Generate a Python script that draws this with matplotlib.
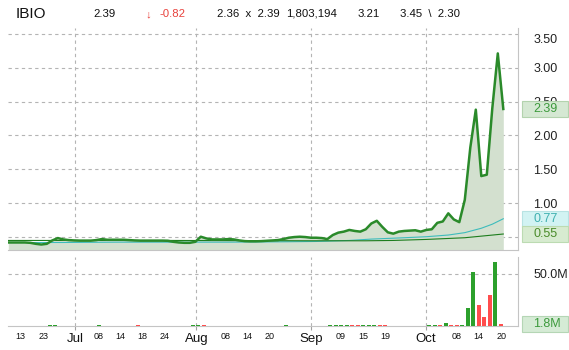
import numpy as np
import matplotlib
matplotlib.use("Agg")
import matplotlib.pyplot as plt
from matplotlib.patches import Rectangle

plt.rcParams['font.family'] = ['Liberation Sans', 'DejaVu Sans']

# daily closes, Jun 13 -> Oct 21 (trading days)
close = [0.42, 0.42, 0.42, 0.42, 0.415, 0.40, 0.39, 0.40, 0.45, 0.485,
         0.465, 0.455, 0.45, 0.447, 0.447, 0.447, 0.455, 0.47, 0.46, 0.46,
         0.46, 0.46, 0.455, 0.45, 0.447, 0.447, 0.447, 0.447, 0.447, 0.445,
         0.43, 0.42, 0.415, 0.415, 0.43, 0.505, 0.48, 0.465, 0.465, 0.465,
         0.47, 0.465, 0.45, 0.44, 0.437, 0.437, 0.44, 0.445, 0.45, 0.455,
         0.47, 0.49, 0.50, 0.505, 0.50, 0.49, 0.49, 0.485, 0.47, 0.53,
         0.565, 0.58, 0.605, 0.59, 0.58, 0.615, 0.70, 0.74, 0.65, 0.57,
         0.55, 0.58, 0.59, 0.595, 0.60, 0.58, 0.605, 0.615, 0.71, 0.73,
         0.85, 0.76, 0.72, 1.05, 1.82, 2.38, 1.40, 1.42, 2.40, 3.21,
         2.39]
# volume in millions
volume = [0.3, 0.2, 0.3, 0.2, 0.2, 0.3, 0.4, 0.3, 0.6, 0.8,
          0.4, 0.3, 0.3, 0.2, 0.2, 0.2, 0.3, 0.5, 0.3, 0.2,
          0.2, 0.3, 0.2, 0.3, 0.6, 0.2, 0.2, 0.2, 0.3, 0.2,
          0.3, 0.3, 0.2, 0.3, 0.5, 1.0, 0.6, 0.3, 0.2, 0.2,
          0.3, 0.2, 0.2, 0.2, 0.2, 0.2, 0.2, 0.2, 0.3, 0.3,
          0.4, 0.5, 0.4, 0.4, 0.3, 0.3, 0.3, 0.3, 0.3, 0.8,
          0.9, 0.6, 0.8, 0.5, 0.7, 0.8, 1.2, 1.0, 0.8, 0.6,
          0.4, 0.4, 0.4, 0.3, 0.3, 0.3, 0.4, 0.6, 0.9, 0.8,
          3.0, 1.0, 1.0, 1.2, 17.0, 51.6, 20.2, 8.9, 29.8, 61.3,
          1.8]
red_days = [6, 24, 36, 43, 58, 63, 64, 68, 69, 79, 81, 82, 86, 87, 88, 90]

ma50_idx = [0, 10, 20, 30, 40, 50, 56, 62, 66, 72, 76, 80, 83, 86, 88, 90]
ma50 = [0.42, 0.42, 0.425, 0.425, 0.425, 0.43, 0.435, 0.45, 0.47, 0.49,
        0.505, 0.53, 0.565, 0.63, 0.69, 0.77]
ma200_idx = [0, 30, 55, 65, 70, 76, 83, 90]
ma200 = [0.45, 0.45, 0.445, 0.445, 0.45, 0.465, 0.49, 0.545]

month_pos = [12.1, 34.2, 55.1, 75.9]
month_lbl = ["Jul", "Aug", "Sep", "Oct"]
day_pos = [2.2, 6.4, 16.4, 20.4, 24.4, 28.4, 39.6, 43.5, 47.5, 60.4, 64.5, 68.5, 81.5, 85.5, 89.6]
day_lbl = ["13", "23", "08", "14", "18", "24", "08", "14", "20", "09", "15", "19", "08", "14", "20"]
price_ticks = [0.5, 1.0, 1.5, 2.0, 2.5, 3.0, 3.5]

W, H = 569, 350
fig = plt.figure(figsize=(W / 100, H / 100), dpi=100)


def fx(px):
    return px / W


def fy(py):
    return 1 - py / H


ax = fig.add_axes([fx(8.3), fy(250), fx(518 - 8.3), (250 - 28) / H])
axv = fig.add_axes([fx(8.3), fy(326), fx(518 - 8.3), (326 - 257) / H])

x = np.arange(len(close))
grid_kw = dict(color="#b4b4b4", lw=0.8, ls=(0, (3, 3)))

# price panel
ax.fill_between(x, close, 0, color="#d3e0cf", lw=0, zorder=1)
ax.plot(ma50_idx, ma50, color="#3dbcbc", lw=0.8, zorder=3)
ax.plot(ma200_idx, ma200, color="#1d7d1d", lw=0.8, zorder=3)
ax.plot(x, close, color="#2a8a2a", lw=1.8, zorder=4, solid_joinstyle="round")
ax.set_xlim(0, (518 - 8.3) / 5.5)
ax.set_ylim(0.309, 3.585)
ax.set_yticks(price_ticks)
ax.set_yticklabels([f"{t:.2f}" for t in price_ticks])
ax.yaxis.tick_right()
ax.tick_params(axis="y", length=0, pad=11, labelsize=9, labelcolor="#222222")
ax.set_xticks(month_pos)
ax.tick_params(axis="x", length=0, labelbottom=False)
ax.grid(True, **grid_kw)
ax.set_axisbelow(True)
for s in ["top", "left"]:
    ax.spines[s].set_visible(False)
for s in ["right", "bottom"]:
    ax.spines[s].set_color("#c4c4c4")
ax.get_yticklabels()[-1].set_va("top")

# volume panel
colors = ["#ff4d4d" if i in red_days else "#2ca02c" for i in x]
axv.bar(x - 0.45, volume, width=0.7, color=colors, zorder=3)
axv.set_xlim(ax.get_xlim())
axv.set_ylim(0, 66.3)
axv.set_yticks([50])
axv.set_yticklabels(["50.0M"])
axv.yaxis.tick_right()
axv.tick_params(axis="y", length=0, pad=11, labelsize=9, labelcolor="#222222")
axv.set_xticks(month_pos)
axv.set_xticklabels(month_lbl)
axv.set_xticks(day_pos, minor=True)
axv.set_xticklabels(day_lbl, minor=True)
axv.tick_params(axis="x", which="major", length=3, color="#a0a0a0", pad=2, labelsize=9.5, labelcolor="#111111")
axv.tick_params(axis="x", which="minor", length=0, pad=4.5, labelsize=6.5, labelcolor="#111111")
axv.grid(True, which="major", **grid_kw)
axv.set_axisbelow(True)
for s in ["top", "left"]:
    axv.spines[s].set_visible(False)
for s in ["right", "bottom"]:
    axv.spines[s].set_color("#c4c4c4")


# value boxes on the right axis
def value_box(axis, val, text, face, edge, tcol):
    ypx = axis.transData.transform((0, val))[1]
    yc = ypx / fig.bbox.height
    fig.patches.append(Rectangle((fx(521.5), yc - 8 / H), fx(46), 16 / H, transform=fig.transFigure,
                                 facecolor=face, edgecolor=edge, lw=0.8, zorder=5))
    fig.text(fx(533), yc, text, ha="left", va="center", fontsize=9, color=tcol, zorder=6)


value_box(ax, close[-1], f"{close[-1]:.2f}", "#d5e8d3", "#b3d3ae", "#3c9a3c")
value_box(ax, ma50[-1], f"{ma50[-1]:.2f}", "#d2f3f3", "#b8e3e3", "#3fb0b0")
value_box(ax, ma200[-1], f"{ma200[-1]:.2f}", "#d7ebd0", "#bcdbb2", "#4a8c2a")
value_box(axv, volume[-1], f"{volume[-1]:.1f}M", "#d5ebd5", "#b5d6b5", "#3c9a3c")

# header
fig.text(fx(16), fy(14), "IBIO", fontsize=11, color="#111111", va="center")
fig.text(fx(93), fy(14), "2.39", fontsize=8.2, color="#111111", va="center")
fig.text(fx(145), fy(14), "\u2193", fontsize=8.2, color="#e8413c", va="center")
fig.text(fx(160), fy(14), "-0.82", fontsize=8.2, color="#e8413c", va="center")
fig.text(fx(217), fy(14), "2.36  x  2.39", fontsize=8.2, color="#111111", va="center")
fig.text(fx(286), fy(14), "1,803,194", fontsize=8.2, color="#111111", va="center")
fig.text(fx(358), fy(14), "3.21", fontsize=8.2, color="#111111", va="center")
fig.text(fx(400), fy(14), "3.45  \\  2.30", fontsize=8.2, color="#111111", va="center")

fig.savefig("out.png", dpi=100)
